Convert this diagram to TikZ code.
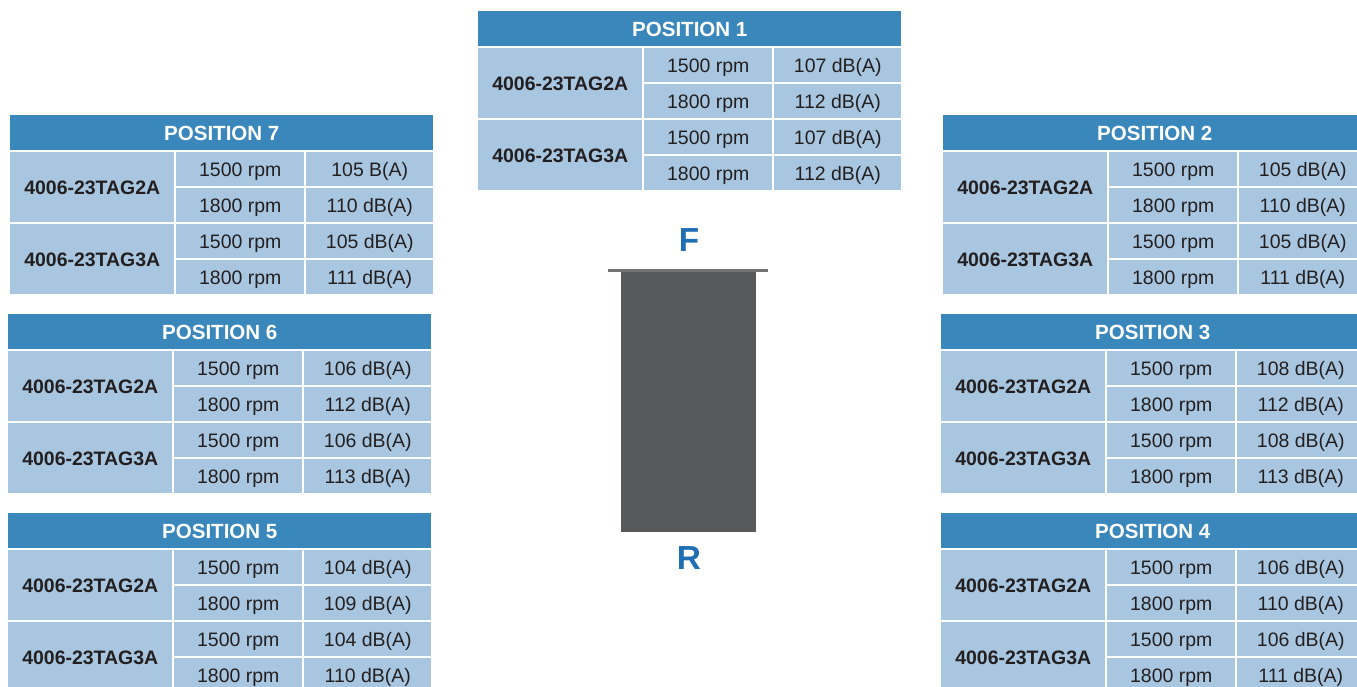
\documentclass[tikz,border=0pt]{standalone}
\usepackage{fontspec}
\setmainfont{Liberation Sans}
\usetikzlibrary{positioning,calc}

\definecolor{headblue}{HTML}{3A87BC}
\definecolor{cellblue}{HTML}{A8C6E0}
\definecolor{celltext}{HTML}{231F20}
\definecolor{engine}{HTML}{58595B}
\definecolor{enginetop}{HTML}{727376}
\definecolor{letterblue}{HTML}{1F6EB4}

\tikzset{
  cell/.style={fill=cellblue,text=celltext,anchor=north west,inner sep=0pt,
    text height=10.5pt,text depth=0pt,
    minimum height=25.5pt,font=\fontsize{14.6}{16}\selectfont},
  head/.style={cell,fill=headblue,text=white,minimum width=317.25pt,
    text height=11pt,
    minimum height=26.25pt,font=\fontsize{15.4}{17}\selectfont\bfseries},
  model/.style={cell,minimum width=123pt,minimum height=52.5pt,
    font=\fontsize{14.6}{16}\selectfont\bfseries},
  speed/.style={cell,minimum width=96pt},
  level/.style={cell,minimum width=95.25pt},
  side/.style={text=letterblue,font=\fontsize{25}{28}\selectfont\bfseries}
}

\begin{document}
\begin{tikzpicture}[x=0.75pt,y=-0.75pt]
            \useasboundingbox (0,0) rectangle (1357,686);
            \clip (0,0) rectangle (1357,686);

            % Position tables: number / left / top / four levels
            \foreach \n/\px/\py/\la/\lb/\lc/\ld in {
                1/478/11/107 dB(A)/112 dB(A)/107 dB(A)/112 dB(A),
                2/943/115/105 dB(A)/110 dB(A)/105 dB(A)/111 dB(A),
                3/941/314/108 dB(A)/112 dB(A)/108 dB(A)/113 dB(A),
                4/941/513/106 dB(A)/110 dB(A)/106 dB(A)/111 dB(A),
                5/8/513/104 dB(A)/109 dB(A)/104 dB(A)/110 dB(A),
                6/8/314/106 dB(A)/112 dB(A)/106 dB(A)/113 dB(A),
                7/10/115/105 B(A)/110 dB(A)/105 dB(A)/111 dB(A)}{
              \begin{scope}[shift={(\px,\py)}]
                \node[head] (pos\n) at (0,0) {POSITION \n};

                % Genset models
                \node[model] (pos\n-g2) at (0,37) {4006-23TAG2A};
                \node[model] (pos\n-g3) at (0,109) {4006-23TAG3A};

                % Speeds
                \node[speed] (pos\n-s1) at (166,37) {1500 rpm};
                \node[speed] (pos\n-s2) at (166,73) {1800 rpm};
                \node[speed] (pos\n-s3) at (166,109) {1500 rpm};
                \node[speed] (pos\n-s4) at (166,145) {1800 rpm};

                % Sound levels
                \node[level] (pos\n-l1) at (296,37) {\la};
                \node[level] (pos\n-l2) at (296,73) {\lb};
                \node[level] (pos\n-l3) at (296,109) {\lc};
                \node[level] (pos\n-l4) at (296,145) {\ld};
              \end{scope}
            }

            % ================== Engine block ==================
            \fill[engine] (621,272) rectangle (756,532);
            \draw[enginetop,line width=2.25pt] (608,270.5) -- (768,270.5);
            \node[side] (front) at (689,240) {F};
            \node[side] (rear) at (689,558) {R};
            % ==================================================

\end{tikzpicture}
\end{document}
